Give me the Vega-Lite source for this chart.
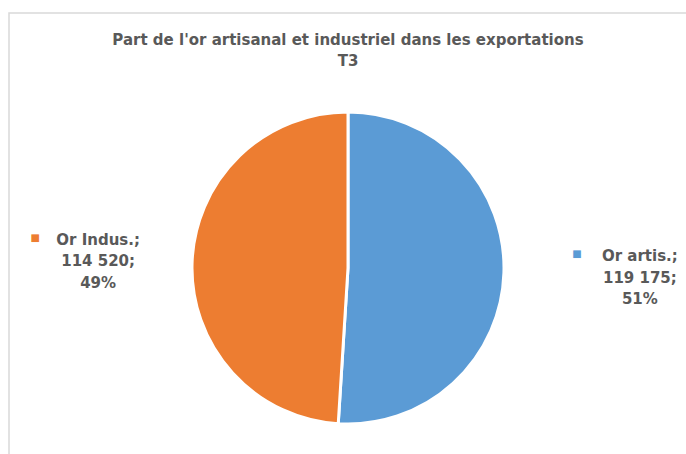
{
  "$schema": "https://vega.github.io/schema/vega-lite/v6.json",
  "width": 686,
  "height": 454,
  "autosize": {"type": "fit", "contains": "padding"},
  "padding": {"left": 9, "top": 13, "right": -1, "bottom": -69},
  "background": "white",
  "view": {"stroke": "#d9d9d9", "strokeWidth": 1.5},
  "title": {
    "text": ["Part de l'or artisanal  et industriel dans  les exportations", "T3"],
    "orient": "top",
    "anchor": "middle",
    "offset": -56,
    "font": "DejaVu Sans",
    "fontSize": 15,
    "fontWeight": "bold",
    "color": "#595959",
    "lineHeight": 21
  },
  "data": {
    "values": [
      {"name": "Or artis.", "value": 119175, "pct": 51},
      {"name": "Or Indus.", "value": 114520, "pct": 49}
    ]
  },
  "transform": [
    {"calculate": "[datum.name + ';', replace(format(datum.value, ','), ',', ' ') + ';', datum.pct + '%']", "as": "label"}
  ],
  "encoding": {
    "theta": {"field": "value", "type": "quantitative", "stack": true},
    "order": {"field": "name", "sort": "descending"},
    "color": {
      "field": "name",
      "type": "nominal",
      "scale": {"domain": ["Or artis.", "Or Indus."], "range": ["#5b9bd5", "#ed7d31"]},
      "legend": null
    }
  },
  "layer": [
    {
      "mark": {"type": "arc", "outerRadius": 156, "stroke": "white", "strokeWidth": 3}
    },
    {
      "mark": {"type": "text", "radius": 271, "dx": 21, "dy": -20, "font": "DejaVu Sans", "fontSize": 15, "fontWeight": "bold", "align": "center", "baseline": "middle", "lineHeight": 21.5},
      "encoding": {
        "text": {"field": "label"},
        "color": {"value": "#595959"}
      }
    },
    {
      "mark": {"type": "text", "radius": 271, "dx": -42, "dy": -22, "text": "■", "fontSize": 10, "align": "center", "baseline": "middle", "font": "DejaVu Sans"}
    }
  ]
}
